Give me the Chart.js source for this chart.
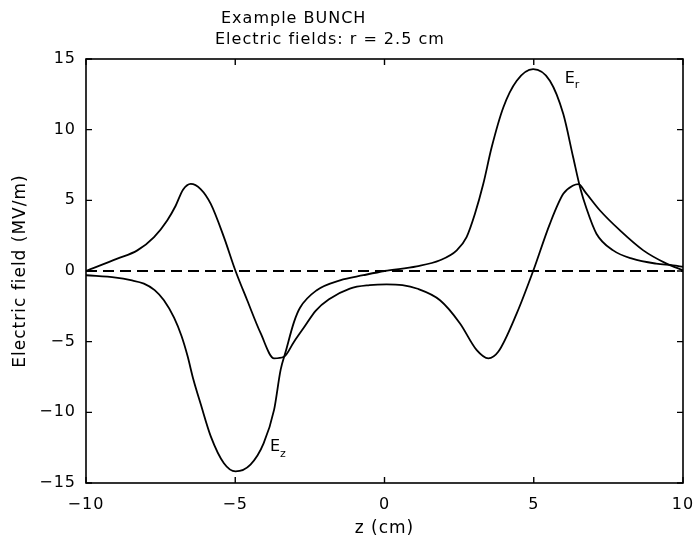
<!DOCTYPE html>
<html>
<head>
<meta charset="utf-8">
<script src="https://cdn.jsdelivr.net/npm/chart.js@4"></script>
<style>
  body { margin: 0; background: #fff; }
</style>
</head>
<body>
<canvas id="chart" width="694" height="541"></canvas>
<script>
// curve with the big +/-14 peaks
const zA = [-10, -9, -8.5, -8.06, -7.7, -7.39, -7.05, -6.8, -6.6, -6.4, -6.16, -5.82, -5.38, -4.99, -4.49, -4.05, -3.7, -3.48, -3.31, -3.03, -2.83, -2.27, -1.49, -0.71, 0, 1.08, 1.86, 2.42, 2.75, 3.03, 3.31, 3.59, 3.98, 4.43, 4.98, 5.54, 5.99, 6.32, 6.55, 6.77, 7.1, 7.66, 8.3, 9.1, 9.67, 10];
const eA = [-0.3, -0.47, -0.65, -0.89, -1.35, -2.07, -3.3, -4.6, -6.0, -7.7, -9.4, -11.7, -13.6, -14.18, -13.7, -12.2, -9.83, -7.0, -5.7, -3.6, -2.6, -1.36, -0.66, -0.3, 0, 0.33, 0.76, 1.46, 2.4, 4.05, 6.17, 8.75, 11.57, 13.46, 14.28, 13.46, 11.1, 8.05, 5.93, 4.4, 2.64, 1.46, 0.87, 0.52, 0.4, 0.3];

// curve with the +/-6 bumps
const zB = [-10, -8.95, -8.28, -7.72, -7.28, -7.0, -6.75, -6.49, -6.16, -5.82, -5.38, -4.99, -4.6, -4.15, -3.7, -3.37, -3.03, -2.7, -2.3, -1.86, -1.16, -0.5, 0.07, 0.6, 1.08, 1.86, 2.53, 3.09, 3.48, 3.81, 4.43, 4.98, 5.54, 5.99, 6.32, 6.5, 6.72, 7.22, 7.89, 8.67, 9.45, 10];
const eB = [0, 0.87, 1.46, 2.4, 3.58, 4.6, 5.75, 6.17, 5.8, 4.75, 2.4, 0, -2.07, -4.4, -6.18, -6.07, -5.0, -4.0, -2.8, -2.0, -1.24, -1.0, -0.94, -1.0, -1.24, -2.07, -3.71, -5.6, -6.18, -5.72, -3.0, 0, 3.34, 5.46, 6.05, 6.15, 5.6, 4.28, 2.87, 1.46, 0.52, 0.05];

const zeroLine = [-10, 10];
const xTicks = [-10, -5, 0, 5, 10];
const yTicks = [-15, -10, -5, 0, 5, 10, 15];

const titleLines = ["Example BUNCH", "Electric fields: r = 2.5 cm"];

const FONT = "'DejaVu Sans', sans-serif";

function toPoints(xs, ys) {
  return xs.map((x, i) => ({ x: x, y: ys[i] }));
}

function fmt(v) {
  return v < 0 ? "\u2212" + Math.abs(v) : String(v);
}

// frame, inward ticks, title and curve labels
const decorations = {
  id: "decorations",
  beforeDraw(chart) {
    chart.ctx.letterSpacing = "1px";
  },
  afterDatasetsDraw(chart) {
    const ctx = chart.ctx;
    const a = chart.chartArea;
    const xs = chart.scales.x;
    const ys = chart.scales.y;
    ctx.save();
    ctx.strokeStyle = "#000";
    ctx.lineWidth = 1.6;
    ctx.strokeRect(a.left, a.top, a.right - a.left, a.bottom - a.top);

    ctx.lineWidth = 1.4;
    ctx.beginPath();
    xTicks.forEach((v) => {
      const px = xs.getPixelForValue(v);
      ctx.moveTo(px, a.bottom);
      ctx.lineTo(px, a.bottom - 6);
      ctx.moveTo(px, a.top);
      ctx.lineTo(px, a.top + 6);
    });
    yTicks.forEach((v) => {
      const py = ys.getPixelForValue(v);
      ctx.moveTo(a.left, py);
      ctx.lineTo(a.left + 6, py);
      ctx.moveTo(a.right, py);
      ctx.lineTo(a.right - 6, py);
    });
    ctx.stroke();

    ctx.fillStyle = "#000";
    ctx.letterSpacing = "1px";
    ctx.font = "16px " + FONT;
    ctx.textBaseline = "middle";
    ctx.textAlign = "left";
    ctx.fillText(titleLines[0], 221, 19);
    ctx.fillText(titleLines[1], 215, 40);

    // curve labels
    const lbl = (z, v, sub) => {
      const px = xs.getPixelForValue(z);
      const py = ys.getPixelForValue(v);
      ctx.font = "16px " + FONT;
      ctx.fillText("E", px - 5, py);
      ctx.font = "11px " + FONT;
      ctx.fillText(sub, px + 5, py + 7);
    };
    lbl(6.21, 13.63, "r");
    lbl(-3.67, -12.45, "z");
    ctx.restore();
  },
};

new Chart(document.getElementById("chart"), {
  type: "line",
  data: {
    datasets: [
      {
        label: "E_z",
        data: toPoints(zA, eA),
        borderColor: "#000",
        borderWidth: 1.8,
        pointRadius: 0,
        cubicInterpolationMode: "monotone",
      },
      {
        label: "E_r",
        data: toPoints(zB, eB),
        borderColor: "#000",
        borderWidth: 1.8,
        pointRadius: 0,
        cubicInterpolationMode: "monotone",
      },
      {
        label: "zero",
        data: toPoints(zeroLine, [0, 0]),
        borderColor: "#000",
        borderWidth: 1.8,
        borderDash: [11, 6],
        pointRadius: 0,
      },
    ],
  },
  options: {
    responsive: false,
    animation: false,
    layout: { padding: { top: 59, right: 11, left: 10, bottom: 0 } },
    plugins: {
      legend: { display: false },
      tooltip: { enabled: false },
    },
    scales: {
      x: {
        type: "linear",
        min: -10,
        max: 10,
        afterFit: (s) => {
          s.height = 58;
          s.paddingLeft = 0;
          s.paddingRight = 0;
        },
        afterBuildTicks: (s) => { s.ticks = xTicks.map((v) => ({ value: v })); },
        grid: { display: false, drawTicks: false },
        border: { display: false },
        ticks: { color: "#000", font: { family: FONT, size: 16 }, padding: 12, callback: fmt },
        title: {
          display: true,
          text: "z (cm)",
          color: "#000",
          font: { family: FONT, size: 17 },
          padding: { top: 0, bottom: 2 },
        },
      },
      y: {
        min: -15,
        max: 15,
        afterFit: (s) => {
          s.width = 76;
          s.paddingTop = 0;
          s.paddingBottom = 0;
        },
        afterBuildTicks: (s) => { s.ticks = yTicks.map((v) => ({ value: v })); },
        grid: { display: false, drawTicks: false },
        border: { display: false },
        ticks: { color: "#000", font: { family: FONT, size: 16 }, padding: 10, callback: fmt },
        title: {
          display: true,
          text: "Electric field (MV/m)",
          color: "#000",
          font: { family: FONT, size: 17 },
          padding: { top: 0, bottom: 0 },
        },
      },
    },
  },
  plugins: [decorations],
});
</script>
</body>
</html>
